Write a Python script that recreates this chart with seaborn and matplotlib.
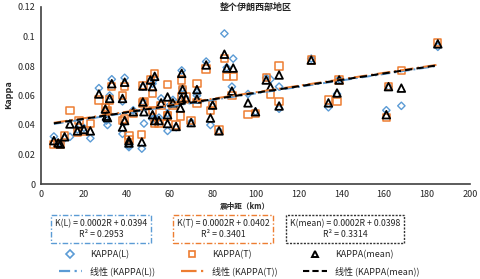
import numpy as np
import pandas as pd
import matplotlib
matplotlib.use("Agg")
from matplotlib import pyplot as plt
from matplotlib.lines import Line2D
from matplotlib.ticker import FuncFormatter
import seaborn as sns

# epicentral distance (km) and kappa values
R = [6, 8, 9, 11, 13.5, 17, 17.7, 20, 23, 27, 30, 30.5, 31, 32, 33, 38, 38, 39, 39, 41,
     41, 43, 47, 47.5, 47.5, 48, 51, 52, 52, 53, 53, 55, 56, 59, 59, 59, 61.5, 63, 65, 65.5,
     65.6, 66, 67.6, 70, 72.7, 72.7, 77, 79, 80, 83, 85.5, 86.6, 89, 89.6, 96.5, 100, 105, 107, 111, 111,
     126, 134, 138, 139, 161, 162, 168, 185]
kappa_L = [0.0322, 0.028, 0.0275, 0.031, 0.032, 0.037, 0.039, 0.038, 0.031, 0.065, 0.049, 0.043, 0.040, 0.060, 0.071, 0.056, 0.034, 0.072, 0.042, 0.026,
           0.025, 0.050, 0.024, 0.066, 0.056, 0.041, 0.070, 0.068, 0.044, 0.071, 0.045, 0.045, 0.058, 0.052, 0.048, 0.036, 0.057, 0.0385, 0.057, 0.060,
           0.077, 0.065, 0.058, 0.042, 0.062, 0.060, 0.083, 0.040, 0.053, 0.036, 0.102, 0.079, 0.066, 0.085, 0.061, 0.049, 0.072, 0.071, 0.066, 0.051,
           0.085, 0.052, 0.061, 0.071, 0.050, 0.066, 0.053, 0.093]
kappa_T = [0.027, 0.0276, 0.0268, 0.033, 0.050, 0.035, 0.043, 0.036, 0.041, 0.057, 0.052, 0.049, 0.050, 0.057, 0.066, 0.060, 0.043, 0.066, 0.044, 0.033,
           0.030, 0.048, 0.0335, 0.067, 0.055, 0.056, 0.071, 0.0615, 0.050, 0.075, 0.041, 0.041, 0.053, 0.0675, 0.046, 0.046, 0.053, 0.040, 0.046, 0.059,
           0.0705, 0.064, 0.059, 0.043, 0.068, 0.055, 0.078, 0.050, 0.054, 0.0366, 0.085, 0.073, 0.060, 0.073, 0.047, 0.048, 0.072, 0.0605, 0.080, 0.056,
           0.084, 0.057, 0.056, 0.0705, 0.045, 0.066, 0.077, 0.096]
kappa_mean = [0.0294, 0.0278, 0.0271, 0.032, 0.0407, 0.036, 0.0407, 0.037, 0.036, 0.061, 0.0508, 0.046, 0.045, 0.058, 0.068, 0.058, 0.0386, 0.069, 0.043, 0.0294,
              0.0278, 0.049, 0.0285, 0.0664, 0.0556, 0.049, 0.0705, 0.066, 0.047, 0.073, 0.043, 0.043, 0.055, 0.059, 0.047, 0.041, 0.055, 0.039, 0.0515, 0.058,
              0.075, 0.064, 0.058, 0.0416, 0.064, 0.0576, 0.0807, 0.0447, 0.0535, 0.036, 0.088, 0.0786, 0.063, 0.0786, 0.055, 0.049, 0.0705, 0.0657, 0.0739, 0.0529,
              0.084, 0.055, 0.0617, 0.0705, 0.047, 0.066, 0.065, 0.095]

# linear trend coefficients (slope, intercept) and R^2
fit_L = (0.00022, 0.0394)
fit_T = (0.00022, 0.0402)
fit_mean = (0.00022, 0.0398)
eq_L = "K(L) = 0.0002R + 0.0394\nR² = 0.2953"
eq_T = "K(T) = 0.0002R + 0.0402\nR² = 0.3401"
eq_mean = "K(mean) = 0.0002R + 0.0398\nR² = 0.3314"

blue = "#5B9BD5"
orange = "#ED7D31"
black = "#000000"

sns.set_style("white")
plt.rcParams["font.family"] = ["Noto Sans CJK SC", "DejaVu Sans"]

df = pd.DataFrame({"R": R, "L": kappa_L, "T": kappa_T, "M": kappa_mean})

fig = plt.figure(figsize=(4.81, 2.79), dpi=100)
ax = fig.add_axes([41 / 481, 1 - 184 / 279, (470 - 41) / 481, (184 - 7) / 279])

sns.scatterplot(data=df, x="R", y="L", ax=ax, marker="D", s=14, facecolor="none",
                edgecolor=blue, linewidth=1.0, zorder=3)
sns.scatterplot(data=df, x="R", y="T", ax=ax, marker="s", s=28, facecolor="none",
                edgecolor=orange, linewidth=1.1, zorder=3)
sns.scatterplot(data=df, x="R", y="M", ax=ax, marker="^", s=30, facecolor="none",
                edgecolor=black, linewidth=1.3, zorder=4)

xs = np.array([min(R), max(R)])
ax.plot(xs, fit_L[0] * xs + fit_L[1], color=blue, lw=1.4, ls=(0, (5, 2, 1, 2)), zorder=5)
ax.plot(xs, fit_T[0] * xs + fit_T[1], color=orange, lw=1.4, ls=(0, (7, 2, 1, 2)), zorder=5)
ax.plot(xs, fit_mean[0] * xs + fit_mean[1], color=black, lw=1.5, ls=(0, (3.5, 2)), zorder=6)

ax.set_xlim(0, 200)
ax.set_ylim(0, 0.12)
ax.set_xticks(range(0, 201, 20))
ax.set_yticks([0, 0.02, 0.04, 0.06, 0.08, 0.1, 0.12])
ax.yaxis.set_major_formatter(FuncFormatter(lambda v, p: "{:g}".format(round(v, 2))))
ax.tick_params(labelsize=6.5, length=0, pad=4)
for s in ["top", "right"]:
    ax.spines[s].set_visible(False)
for s in ["left", "bottom"]:
    ax.spines[s].set_color("#404040")
    ax.spines[s].set_linewidth(1.2)
ax.set_xlabel("")
ax.set_ylabel("")

ax.text(0.5, 1.0, "整个伊朗西部地区", transform=ax.transAxes, ha="center", va="center",
        fontsize=6.5, fontweight="bold")
fig.text(9 / 481, 1 - 95 / 279, "Kappa", rotation=90, ha="center", va="center",
         fontsize=6.5, fontweight="bold")
fig.text(245 / 481, 1 - 206 / 279, "震中距（km）", ha="center", va="center",
         fontsize=5.5, fontweight="bold")

# equation boxes
for xc, txt, col, ls in [(101, eq_L, blue, (0, (4, 1.5, 1, 1.5))),
                         (223, eq_T, orange, (0, (4, 1.5, 1, 1.5))),
                         (345, eq_mean, "#333333", (0, (1.5, 1)))]:
    fig.text(xc / 481, 1 - 229 / 279, txt, ha="center", va="center", fontsize=6.3,
             multialignment="center", linespacing=1.35,
             bbox=dict(boxstyle="square,pad=0.4", fc="white", ec=col, ls=ls, lw=1))

handles = [
    Line2D([], [], ls="none", marker="D", ms=4, mfc="none", mec=blue, mew=1.2),
    Line2D([], [], color=blue, lw=1.6, ls=(0, (5, 2, 1, 2))),
    Line2D([], [], ls="none", marker="s", ms=5, mfc="none", mec=orange, mew=1.2),
    Line2D([], [], color=orange, lw=1.6, ls=(0, (7, 2, 1, 2))),
    Line2D([], [], ls="none", marker="^", ms=5, mfc="none", mec=black, mew=1.4),
    Line2D([], [], color=black, lw=1.5, ls=(0, (3, 1.5))),
]
labels = ["KAPPA(L)", "线性 (KAPPA(L))", "KAPPA(T)", "线性 (KAPPA(T))",
          "KAPPA(mean)", "线性 (KAPPA(mean))"]
fig.legend(handles, labels, ncol=3, loc="center", bbox_to_anchor=(0.497, 1 - 263 / 279),
           frameon=False, fontsize=6.5, handlelength=2.6, columnspacing=2.8,
           labelspacing=0.8, handletextpad=0.9)

fig.savefig("out.png", dpi=100)
